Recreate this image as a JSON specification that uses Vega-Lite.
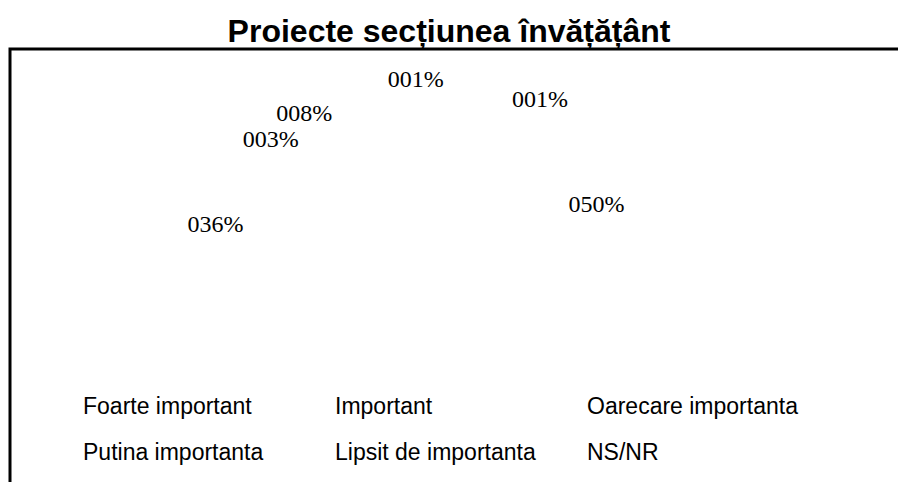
{
  "$schema": "https://vega.github.io/schema/vega-lite/v6.json",
  "width": 890,
  "height": 460,
  "autosize": {"type": "none"},
  "padding": {"left": 10, "top": 49, "right": 0, "bottom": 0},
  "background": "white",
  "view": {"stroke": "black", "strokeWidth": 3, "fill": "white"},
  "title": {
    "text": "Proiecte secțiunea învățățânt",
    "font": "Liberation Sans",
    "fontSize": 32,
    "fontWeight": "bold",
    "color": "black",
    "anchor": "middle",
    "offset": 0,
    "dx": -6
  },
  "data": {
    "values": [
      {"categorie": "Foarte important", "procent": 50, "eticheta": "050%", "ordine": 6},
      {"categorie": "Important", "procent": 36, "eticheta": "036%", "ordine": 1},
      {"categorie": "Oarecare importanta", "procent": 8, "eticheta": "008%", "ordine": 3},
      {"categorie": "Putina importanta", "procent": 3, "eticheta": "003%", "ordine": 2},
      {"categorie": "Lipsit de importanta", "procent": 1, "eticheta": "001%", "ordine": 4},
      {"categorie": "NS/NR", "procent": 1, "eticheta": "001%", "ordine": 5}
    ]
  },
  "encoding": {
    "theta": {"field": "procent", "type": "quantitative", "stack": true, "scale": {"type": "pow", "exponent": 2, "range": [-1.400, 3.149]}},
    "order": {"field": "ordine", "type": "quantitative"}
  },
  "layer": [
    {
      "mark": {"type": "arc", "opacity": 0, "outerRadius": 170},
      "encoding": {
        "color": {
          "field": "categorie",
          "type": "nominal",
          "sort": ["Foarte important", "Putina importanta", "Important", "Lipsit de importanta", "Oarecare importanta", "NS/NR"],
          "legend": {
            "title": null,
            "orient": "none",
            "legendX": 46,
            "legendY": 346,
            "columns": 3,
            "gridAlign": "all",
            "columnPadding": 14,
            "rowPadding": 22,
            "padding": 0,
            "symbolSize": 100,
            "symbolOpacity": 0,
            "symbolStrokeWidth": 0,
            "labelOffset": 4,
            "labelFont": "Liberation Sans",
            "labelFontSize": 23,
            "labelColor": "black",
            "labelLimit": 400
          }
        }
      }
    },
    {
      "mark": {"type": "text", "radius": 205, "font": "Liberation Serif", "fontSize": 24, "color": "black", "dx": -45, "dy": 11},
      "encoding": {
        "text": {"field": "eticheta", "type": "nominal"},
        "opacity": {"condition": {"test": "datum.categorie === 'NS/NR' || datum.categorie === 'Lipsit de importanta'", "value": 0}, "value": 1}
      }
    },
    {
      "mark": {"type": "text", "radius": 210, "thetaOffset": 0.38, "font": "Liberation Serif", "fontSize": 24, "color": "black", "dx": -45, "dy": 11},
      "encoding": {
        "text": {"field": "eticheta", "type": "nominal"},
        "opacity": {"condition": {"test": "datum.categorie === 'Lipsit de importanta'", "value": 1}, "value": 0}
      }
    },
    {
      "mark": {"type": "text", "radius": 230, "thetaOffset": 0.909, "font": "Liberation Serif", "fontSize": 24, "color": "black", "dx": -45, "dy": 11},
      "encoding": {
        "text": {"field": "eticheta", "type": "nominal"},
        "opacity": {"condition": {"test": "datum.categorie === 'NS/NR'", "value": 1}, "value": 0}
      }
    }
  ]
}
